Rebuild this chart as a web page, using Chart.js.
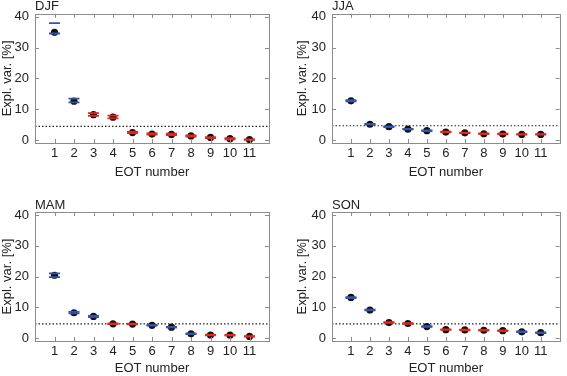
<!DOCTYPE html>
<html>
<head>
<meta charset="utf-8">
<script src="https://cdn.jsdelivr.net/npm/chart.js@4.4.1/dist/chart.umd.min.js"></script>
<style>
  html, body { margin:0; padding:0; background:#fff; }
  #wrap { position:relative; width:567px; height:376px; }
  #wrap canvas { position:absolute; }
</style>
</head>
<body>
<div id="wrap">
  <canvas id="c-djf" width="283" height="188" style="left:0;top:0"></canvas>
  <canvas id="c-jja" width="284" height="188" style="left:283px;top:0"></canvas>
  <canvas id="c-mam" width="283" height="188" style="left:0;top:188px"></canvas>
  <canvas id="c-son" width="284" height="188" style="left:283px;top:188px"></canvas>
</div>
<script>
/* ==== Data ==== */
const eotNums = [1,2,3,4,5,6,7,8,9,10,11];
const yTicks = [0,10,20,30,40];

// explained variance (dot), lower / upper range, significant (1 = blue, 0 = red)
const djfVal = [35.0, 12.6, 8.2, 7.4, 2.4, 1.9, 1.8, 1.3, 0.8, 0.4, 0.1];
const djfLo  = [34.6, 12.2, 7.8, 7.0, 2.2, 1.7, 1.6, 1.1, 0.6, 0.2, 0.0];
const djfHi  = [38.0, 13.4, 8.7, 7.9, 2.6, 2.1, 2.0, 1.5, 0.9, 0.6, 0.2];
const djfSig = [1,1,0,0,0,0,0,0,0,0,0];
const djfLevel = 4.4;

const jjaVal = [12.7, 5.1, 4.3, 3.5, 3.0, 2.55, 2.3, 2.0, 1.9, 1.8, 1.8];
const jjaLo  = [12.5, 5.0, 4.2, 3.4, 2.9, 2.45, 2.2, 1.9, 1.8, 1.7, 1.7];
const jjaHi  = [12.9, 5.2, 4.4, 3.6, 3.1, 2.65, 2.4, 2.1, 2.0, 1.9, 1.9];
const jjaSig = [1,1,1,1,1,0,0,0,0,0,0];
const jjaLevel = 4.6;

const mamVal = [20.4, 8.2, 7.0, 4.6, 4.5, 4.1, 3.5, 1.35, 0.95, 0.9, 0.5];
const mamLo  = [19.8, 8.0, 6.8, 4.5, 4.4, 4.0, 3.4, 1.25, 0.85, 0.8, 0.4];
const mamHi  = [21.0, 8.5, 7.2, 4.7, 4.6, 4.2, 3.6, 1.45, 1.05, 1.0, 0.6];
const mamSig = [1,1,1,0,0,1,1,1,0,0,0];
const mamLevel = 4.6;

const sonVal = [13.2, 9.1, 5.0, 4.7, 3.7, 2.7, 2.6, 2.5, 2.35, 2.0, 1.7];
const sonLo  = [13.0, 9.0, 4.9, 4.6, 3.6, 2.6, 2.5, 2.4, 2.25, 1.9, 1.6];
const sonHi  = [13.3, 9.2, 5.1, 4.8, 3.8, 2.8, 2.7, 2.6, 2.45, 2.1, 1.8];
const sonSig = [1,1,0,0,1,0,0,0,0,1,1];
const sonLevel = 4.6;

/* ==== Style ==== */
const BLUE = '#3553a8';
const RED = '#e5261c';
const FONT = "'Liberation Sans', Arial, sans-serif";
const AXIS_GRAY = '#8c8c8c';

/* ==== Frame with inward ticks + panel title ==== */
const framePlugin = {
  id: 'frame',
  afterDraw(chart, args, opts){
    const {ctx, chartArea:a, scales} = chart;
    ctx.save();
    ctx.strokeStyle = AXIS_GRAY;
    ctx.lineWidth = 1;
    ctx.strokeRect(Math.round(a.left)+0.5, Math.round(a.top)+0.5, Math.round(a.right-a.left), Math.round(a.bottom-a.top));
    ctx.beginPath();
    eotNums.forEach(n => {
      const x = Math.round(scales.x.getPixelForValue(n)) + 0.5;
      ctx.moveTo(x, a.bottom); ctx.lineTo(x, a.bottom - 4);
      ctx.moveTo(x, a.top); ctx.lineTo(x, a.top + 4);
    });
    yTicks.forEach(v => {
      const y = Math.round(scales.y.getPixelForValue(v)) + 0.5;
      ctx.moveTo(a.left, y); ctx.lineTo(a.left + 4, y);
      ctx.moveTo(a.right, y); ctx.lineTo(a.right - 4, y);
    });
    ctx.stroke();
    ctx.fillStyle = '#222';
    ctx.font = '13px ' + FONT;
    ctx.textAlign = 'left';
    ctx.textBaseline = 'middle';
    ctx.fillText(opts.title, a.left, a.top - 7);
    ctx.restore();
  }
};

function makePanel(id, title, val, lo, hi, sig, level, pad){
  const colors = sig.map(s => s ? BLUE : RED);
  const pts = arr => arr.map((v,i) => ({x: eotNums[i], y: v}));
  const canvas = document.getElementById(id);
  return new Chart(canvas, {
    type: 'scatter',
    data: {
      datasets: [
        { type:'line', data:[{x:0,y:level},{x:12,y:level}], borderColor:'#222', borderWidth:1.2,
          borderDash:[1.5,2], pointRadius:0, order:3 },
        { data: pts(val), pointRadius:3.6, backgroundColor:'#111', borderWidth:0, order:2 },
        { data: pts(lo), pointStyle:'line', pointRadius:5.5, borderColor:colors, borderWidth:1.8, order:1 },
        { data: pts(hi), pointStyle:'line', pointRadius:5.5, borderColor:colors, borderWidth:1.8, order:0 }
      ]
    },
    options: {
      responsive:false, animation:false,
      layout:{ padding:{ left:pad.l, right:canvas.width - pad.r, top:pad.t, bottom:pad.pb } },
      plugins:{ legend:{display:false}, tooltip:{enabled:false}, frame:{ title } },
      scales: {
        x: {
          type:'linear', min:0, max:12,
          grid:{display:false, drawTicks:false}, border:{display:false},
          afterBuildTicks: s => { s.ticks = eotNums.map(v => ({value:v})); },
          afterFit: s => { s.height = canvas.height - pad.pb - pad.b; },
          ticks:{ padding:3, color:'#222', font:{family:FONT, size:13}, maxRotation:0, autoSkip:false },
          title:{ display:true, text:'EOT number', color:'#222', padding:0, font:{family:FONT, size:13} }
        },
        y: {
          min:-1, max:41,
          grid:{display:false, drawTicks:false}, border:{display:false},
          afterBuildTicks: s => { s.ticks = yTicks.map(v => ({value:v})); },
          afterFit: s => { s.width = pad.a - pad.l; },
          ticks:{ padding:6, color:'#222', font:{family:FONT, size:13} },
          title:{ display:true, text:'Expl. var. [%]', color:'#222', padding:0, font:{family:FONT, size:13} }
        }
      }
    },
    plugins:[framePlugin]
  });
}

// pad: l = left padding, a = plot left, r = plot right, t = plot top, b = plot bottom, pb = bottom padding
makePanel('c-djf', 'DJF', djfVal, djfLo, djfHi, djfSig, djfLevel, {l:0,  a:35, r:269, t:13, b:143, pb:8});
makePanel('c-jja', 'JJA', jjaVal, jjaLo, jjaHi, jjaSig, jjaLevel, {l:12, a:49, r:283, t:13, b:143, pb:8});
makePanel('c-mam', 'MAM', mamVal, mamLo, mamHi, mamSig, mamLevel, {l:0,  a:35, r:269, t:24, b:153, pb:0});
makePanel('c-son', 'SON', sonVal, sonLo, sonHi, sonSig, sonLevel, {l:12, a:49, r:283, t:24, b:153, pb:0});
</script>
</body>
</html>
